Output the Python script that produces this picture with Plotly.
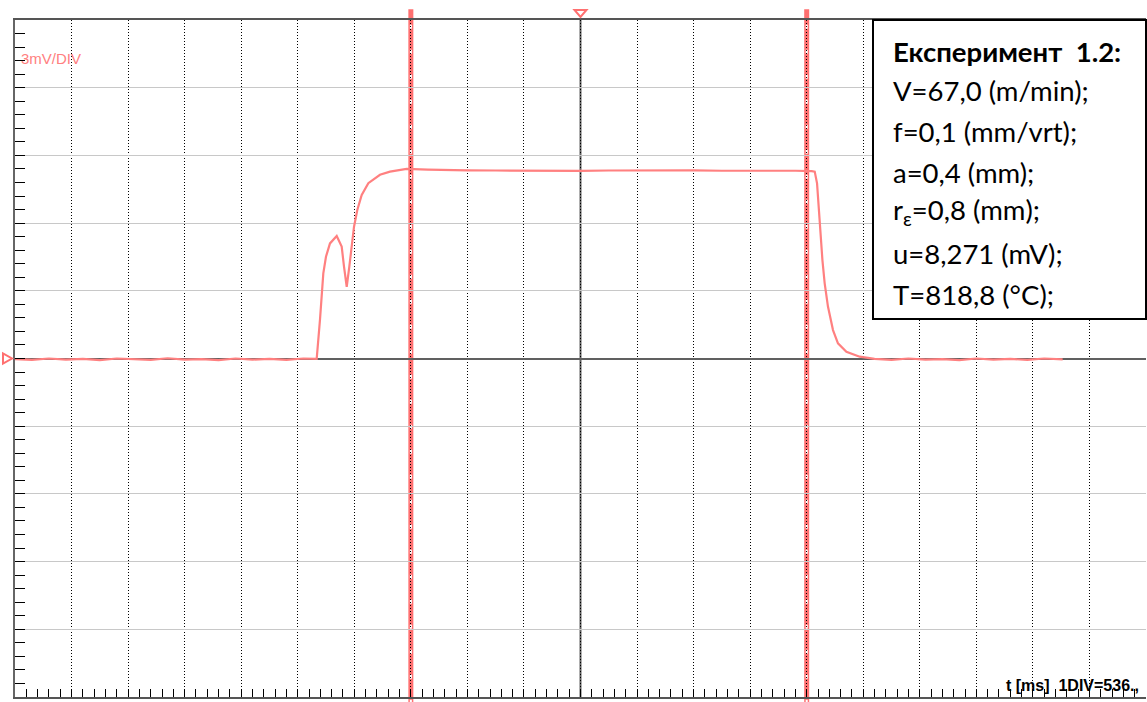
import plotly.graph_objects as go

# Time axis in divisions (1 DIV = 536 ms), signal in mV (3 mV/DIV)
t_div = [0.0, 0.3, 0.6, 0.9, 1.2, 1.5, 1.8, 2.1, 2.4, 2.7, 3.0, 3.3, 3.6, 3.9, 4.2, 4.5, 4.8, 5.1, 5.335,
         5.393, 5.424, 5.452, 5.499, 5.57, 5.689, 5.777, 5.818, 5.866, 5.912, 5.954, 5.995, 6.053, 6.131,
         6.248, 6.454, 6.631, 6.926, 7.3, 7.6, 8.0, 8.5, 9.0, 9.5, 10.0, 10.5, 11.0, 11.5, 12.0, 12.5, 13.0,
         13.5, 13.8, 14.089, 14.142, 14.183, 14.23, 14.278, 14.318, 14.376, 14.465, 14.553, 14.702, 14.937,
         15.2, 15.5, 15.8, 16.1, 16.4, 16.7, 17.0, 17.3, 17.6, 17.9, 18.2, 18.526]
u_mV = [-0.03, -0.06, 0.0, -0.05, -0.02, -0.07, 0.0, -0.04, -0.06, 0.01, -0.05, -0.03, -0.07, 0.0, -0.05, -0.02, -0.06, 0.0, -0.02,
        1.71, 2.89, 3.77, 4.51, 5.10, 5.43, 4.96, 4.07, 3.18, 4.07, 4.96, 5.84, 6.58, 7.25,
        7.77, 8.14, 8.28, 8.40, 8.37, 8.35, 8.34, 8.33, 8.32, 8.30, 8.31, 8.33, 8.34, 8.33, 8.34, 8.32, 8.33,
        8.31, 8.32, 8.30, 8.28, 7.76, 5.99, 4.36, 3.33, 2.30, 1.26, 0.67, 0.30, 0.08,
        -0.02, -0.06, 0.0, -0.05, -0.03, -0.07, 0.0, -0.05, -0.02, -0.06, 0.0, -0.04, -0.02]

cursor_positions = [7.0, 14.0]
trigger_x = 10.0
level_y = 0.0

scale_label = "3mV/DIV"
time_label = "<b>t [ms]&nbsp; 1DIV=536.,</b>"
info_title = "<b>Експеримент&nbsp; 1.2:</b>"
info_lines = ["V=67,0 (m/min);", "f=0,1 (mm/vrt);", "a=0,4 (mm);",
              "r<sub>ε</sub>=0,8 (mm);", "u=8,271 (mV);", "T=818,8 (°C);"]

RED = "#ff8080"
CURSOR = "#ff7070"

fig = go.Figure()
fig.add_trace(go.Scatter(x=t_div, y=u_mV, mode="lines",
                         line=dict(color=RED, width=2.2), showlegend=False, hoverinfo="skip"))

shapes = []
for cx in cursor_positions:
    shapes.append(dict(type="line", xref="x", yref="paper", x0=cx, x1=cx, y0=-0.01, y1=1.016,
                       line=dict(color=CURSOR, width=5), layer="below"))
    shapes.append(dict(type="line", xref="x", yref="paper", x0=cx, x1=cx, y0=-0.01, y1=1.0,
                       line=dict(color="white", width=2, dash="4px,21px"), layer="below"))
# centre vertical line
shapes.append(dict(type="line", xref="x", yref="paper", x0=10, x1=10, y0=0, y1=1,
                   line=dict(color="#606060", width=2), layer="below"))
# trigger marker (top) and level marker (left)
shapes.append(dict(type="path", xref="x", yref="paper", xsizemode="pixel", ysizemode="pixel",
                   xanchor=trigger_x, yanchor=1.0, path="M-6,10 L6,10 L0,3 Z",
                   fillcolor="white", line=dict(color=CURSOR, width=2), layer="above"))
shapes.append(dict(type="path", xref="paper", yref="y", xsizemode="pixel", ysizemode="pixel",
                   xanchor=0.0, yanchor=level_y, path="M-12,5 L-12,-5 L-3,0 Z",
                   fillcolor="white", line=dict(color=CURSOR, width=2), layer="above"))
# info box
box_x0 = (873 - 15) / 1131
box_y0 = (697 - 319) / 677
shapes.append(dict(type="rect", xref="paper", yref="paper", x0=box_x0, x1=1.0, y0=box_y0, y1=1.0,
                   fillcolor="white", line=dict(color="black", width=2), layer="above"))

annotations = [
    dict(x=(19 - 15) / 1131, y=(697 - 58) / 677, xref="paper", yref="paper", text=scale_label, showarrow=False,
         xanchor="left", yanchor="middle", font=dict(family="Liberation Sans", size=15, color=RED)),
    dict(x=(1141 - 15) / 1131, y=(697 - 685) / 677, xref="paper", yref="paper", text=time_label, showarrow=False,
         xanchor="right", yanchor="middle", font=dict(family="Liberation Sans", size=16, color="black")),
]
text_x = (891 - 15) / 1131
line_centers = [52, 90, 131, 172, 212, 253, 294]
texts = [info_title] + info_lines
for txt, yc in zip(texts, line_centers):
    annotations.append(dict(x=text_x, y=(697 - yc) / 677, xref="paper", yref="paper", text=txt,
                            showarrow=False, xanchor="left", yanchor="middle",
                            font=dict(family="Lato", size=27.5, color="black")))

fig.update_layout(
    width=1147, height=702,
    margin=dict(l=15, r=1, t=20, b=5),
    paper_bgcolor="white", plot_bgcolor="white",
    shapes=shapes, annotations=annotations,
    xaxis=dict(range=[0, 20], dtick=1, tick0=0, showgrid=True, gridcolor="black", gridwidth=1,
               griddash="1px,2px", zeroline=False, showticklabels=False,
               ticks="inside", ticklen=8, tickcolor="black", tickwidth=1,
               minor=dict(dtick=0.2, ticks="inside", ticklen=8, tickcolor="black", showgrid=False),
               showline=True, linecolor="#555", linewidth=2, mirror=True, fixedrange=True),
    yaxis=dict(range=[-15, 15], dtick=3, tick0=0, showgrid=True, gridcolor="#c8c8c8", gridwidth=1,
               zeroline=True, zerolinecolor="#606060", zerolinewidth=2, showticklabels=False,
               ticks="inside", ticklen=10, tickcolor="black", tickwidth=1,
               minor=dict(dtick=0.6, ticks="inside", ticklen=10, tickcolor="black", showgrid=False),
               showline=True, linecolor="#666", linewidth=2, fixedrange=True),
)

fig.write_html("out.html")
